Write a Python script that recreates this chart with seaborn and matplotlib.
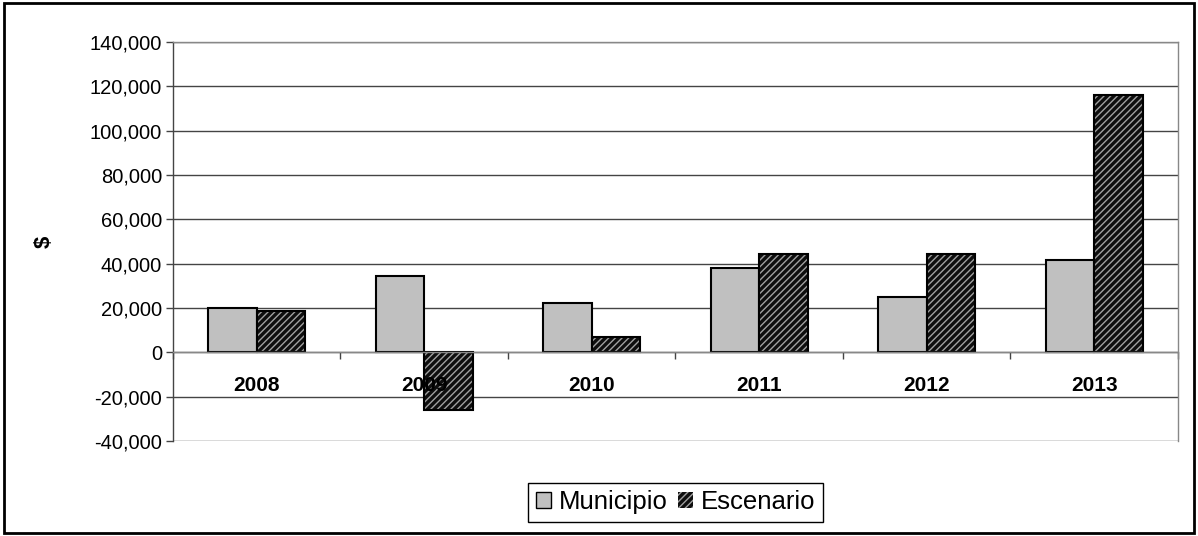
import matplotlib
matplotlib.use("Agg")
import matplotlib.pyplot as plt
import matplotlib.ticker as mticker
from matplotlib.patches import Rectangle
import seaborn as sns
import pandas as pd

years = ["2008", "2009", "2010", "2011", "2012", "2013"]
municipio = [20000, 34300, 22300, 37900, 24800, 41500]
escenario = [18500, -26200, 7100, 44200, 44200, 116000]
series = ["Municipio", "Escenario"]

df = pd.DataFrame({
    "year": years * 2,
    "value": municipio + escenario,
    "serie": [series[0]] * len(years) + [series[1]] * len(years),
})

sns.set_theme(style="white")
plt.rcParams["font.family"] = ["Liberation Sans", "DejaVu Sans"]
plt.rcParams["hatch.linewidth"] = 1.0
plt.rcParams["text.color"] = "black"
plt.rcParams["axes.labelcolor"] = "black"
plt.rcParams["ytick.labelcolor"] = "black"

fig = plt.figure(figsize=(11.98, 5.36), dpi=100)
ax = fig.add_axes([0.1444, 0.1772, 0.8389, 0.7444])

sns.barplot(data=df, x="year", y="value", hue="serie", ax=ax,
            palette=["#c0c0c0", "#2a2a2a"], width=0.58, gap=0,
            edgecolor="black", linewidth=1.5, legend=False)

# Escenario bars: dark fill with light diagonal hatch, black outline on top
n = len(years)
for p in ax.patches[n:2 * n]:
    p.set_facecolor("#0e0e0e")
    p.set_edgecolor("#a0a0a0")
    p.set_hatch("/////")
    p.set_linewidth(0)
    ax.add_patch(Rectangle(p.get_xy(), p.get_width(), p.get_height(),
                           fill=False, edgecolor="black", linewidth=1.5, zorder=p.get_zorder() + 0.1))

ax.set_ylim(-40000, 140000)
ax.set_xlim(-0.5, n - 0.5)
ax.yaxis.set_major_locator(mticker.MultipleLocator(20000))
ax.yaxis.set_major_formatter(mticker.FuncFormatter(lambda v, _: f"{v:,.0f}"))
ax.grid(axis="y", color="#444444", linewidth=1)
ax.set_axisbelow(True)
ax.tick_params(axis="y", labelsize=14.5, length=5, width=1, color="#444444", left=True, pad=3)

# x axis on the zero line, ticks between categories
ax.spines["bottom"].set_position(("data", 0))
ax.spines["bottom"].set_color("#888888")
ax.set_xticks([i + 0.5 for i in range(-1, n)])
ax.set_xticklabels([])
ax.tick_params(axis="x", bottom=True, length=5, width=1, color="#444444")
for i, yr in enumerate(years):
    ax.annotate(yr, (i, 0), xytext=(0, -24), textcoords="offset points",
                ha="center", va="center", fontsize=15, fontweight="bold")

ax.spines["left"].set_color("#444444")
for s in ["top", "right"]:
    ax.spines[s].set_color("#888888")
for s in ax.spines.values():
    s.set_linewidth(1)

ax.set_xlabel("")
ax.set_ylabel("$", fontsize=16, fontweight="bold")
ax.yaxis.set_label_coords(-0.118, 0.5)

handles = [Rectangle((0, 0), 1, 1, facecolor="#c0c0c0", edgecolor="black", linewidth=1),
           Rectangle((0, 0), 1, 1, facecolor="#0e0e0e", edgecolor="#a0a0a0", hatch="/////", linewidth=0)]
leg = fig.legend(handles, series, loc="center", bbox_to_anchor=(0.564, 0.063),
                 ncol=2, fontsize=18.5, frameon=True, fancybox=False, framealpha=1,
                 edgecolor="black", handlelength=0.6, handleheight=0.6,
                 handletextpad=0.3, columnspacing=0.4, borderpad=0.3, borderaxespad=0)
leg.get_frame().set_linewidth(1)

fig.patches.append(Rectangle((0.003, 0.005), 0.994, 0.99, transform=fig.transFigure,
                             fill=False, edgecolor="black", linewidth=2))

fig.savefig("out.png", dpi=100)
